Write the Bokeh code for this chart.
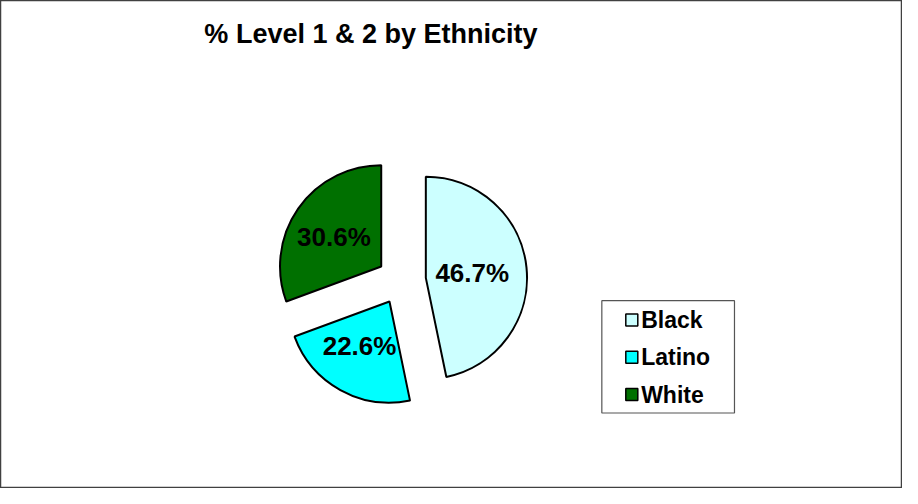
import math
from bokeh.plotting import figure
from bokeh.models import Range1d, ColumnDataSource
from bokeh.core.properties import value
from bokeh.embed import file_html
from bokeh.resources import INLINE

# ---- data ----
title = "% Level 1 & 2 by Ethnicity"
categories = ["Black", "Latino", "White"]
percents = [46.7, 22.6, 30.6]
colors = ["#CCFFFF", "#00FFFF", "#007000"]

# ---- layout (reference pixel coordinates; data y = H - ref y) ----
W, H = 918, 504
FW, FH = 902, 488
cx, cy = 408, H - 289
R = 103
EXPLODE = 25
LABEL_F = 0.51
LABEL_DX = -5

p = figure(width=FW, height=FH, output_backend="svg", toolbar_location=None,
           x_range=Range1d(0, W), y_range=Range1d(0, H),
           min_border=0, outline_line_color="#404040", outline_line_width=1.5)
p.axis.visible = False
p.grid.visible = False
p.background_fill_color = "white"
p.border_fill_color = "white"

total = sum(percents)
starts, ends, xs, ys, lx, ly, labels = [], [], [], [], [], [], []
cum = 0.0
for v in percents:
    a0 = math.pi / 2 - 2 * math.pi * (cum + v) / total
    a1 = math.pi / 2 - 2 * math.pi * cum / total
    mid = (a0 + a1) / 2
    x0 = cx + EXPLODE * math.cos(mid)
    y0 = cy + EXPLODE * math.sin(mid)
    starts.append(a0); ends.append(a1)
    xs.append(x0); ys.append(y0)
    lx.append(x0 + LABEL_F * R * math.cos(mid) + LABEL_DX)
    ly.append(y0 + LABEL_F * R * math.sin(mid))
    labels.append(f"{v:.1f}%")
    cum += v

src = ColumnDataSource(dict(x=xs, y=ys, start=starts, end=ends, color=colors,
                            lx=lx, ly=ly, label=labels, cat=categories))
p.wedge(x="x", y="y", radius=R, start_angle="start", end_angle="end",
        fill_color="color", line_color="black", line_width=2, source=src)
p.text(x="lx", y="ly", text="label", source=src, text_align="center",
       text_baseline="middle", text_font=value("Liberation Sans"),
       text_font_style="bold", text_font_size="26px", text_color="black")

# title
p.text(x=[377], y=[H - 35], text=[title], text_align="center", text_baseline="middle",
       text_font=value("Liberation Sans"), text_font_style="bold",
       text_font_size="27px", text_color="black")

# legend (drawn manually)
p.quad(left=[612], right=[747], top=[H - 310], bottom=[H - 426],
       fill_color="white", line_color="#555555", line_width=1.2)
leg_y = [H - 330 - i * 38.5 for i in range(len(categories))]
p.rect(x=[642.5] * len(categories), y=leg_y, width=12, height=12,
       width_units="screen", height_units="screen",
       fill_color=colors, line_color="black", line_width=1.5)
p.text(x=[652] * len(categories), y=leg_y, text=categories, text_align="left",
       text_baseline="middle", text_font=value("Liberation Sans"),
       text_font_style="bold", text_font_size="23px", text_color="black")

open("out.html", "w").write(file_html(p, INLINE))
